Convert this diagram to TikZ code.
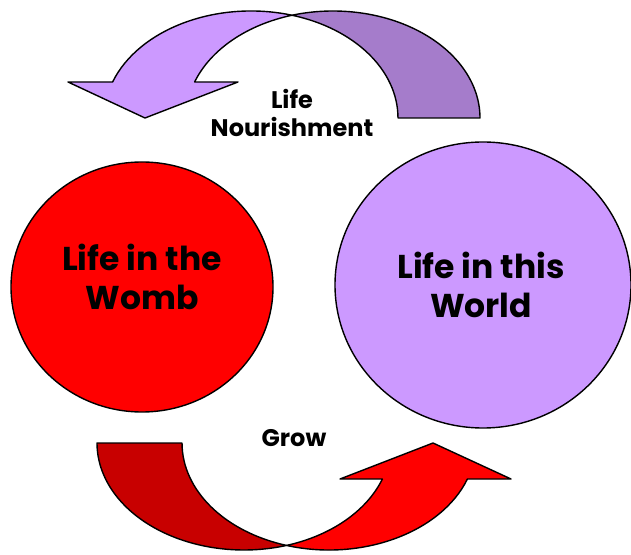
\documentclass[tikz,border=0pt]{standalone}
\usepackage{fontspec}
\setmainfont{Poppins}
\usetikzlibrary{shapes.geometric}
\definecolor{lav}{HTML}{CC99FF}
\definecolor{lavdark}{HTML}{A57CCB}
\definecolor{redA}{HTML}{FF0000}
\definecolor{redB}{HTML}{C80000}
\begin{document}
\begin{tikzpicture}[x=1pt,y=1pt,
  shapeline/.style={draw=black,line width=1.4pt,line join=round},
  bigtext/.style={font=\fontsize{33}{39}\selectfont\bfseries,align=center,text=black},
  smalltext/.style={font=\fontsize{24}{28}\selectfont\bfseries,align=center,text=black},
  disc/.style={ellipse,shapeline,inner sep=0pt},
  er/.style={x radius=147,y radius=107}]
\useasboundingbox (0,0) rectangle (631,554);

% top curved arrow (Life Nourishment)
\draw[shapeline,fill=lavdark] (480,436)
  arc[start angle=0,end angle=106.2,er]
  arc[start angle=73.8,end angle=0,er] -- cycle;
\draw[shapeline,fill=lav] (112.6,472)
  arc[start angle=160.34,end angle=73.8,er]
  arc[start angle=106.2,end angle=160.34,er]
  -- (238,472) -- (145,436) -- (68,472) -- cycle;

% bottom curved arrow (Grow)
\draw[shapeline,fill=redB] (97,111)
  arc[start angle=180,end angle=286.81,er]
  arc[start angle=253.19,end angle=180,er] -- cycle;
\draw[shapeline,fill=redA] (467.4,75)
  arc[start angle=340.34,end angle=253.19,er]
  arc[start angle=286.81,end angle=340.34,er]
  -- (340,75) -- (433,111) -- (511,75) -- cycle;

% circles
\node[disc,fill=redA,minimum width=262pt,minimum height=250pt] (womb) at (142,267) {};
\node[disc,fill=lav,minimum width=296pt,minimum height=286pt] (world) at (483,269) {};

% texts
\node[bigtext] (wombtext) at (142,277) {Life in the\\Womb};
\node[bigtext] (worldtext) at (481,269) {Life in this\\World};
\node[smalltext] (nourish) at (292,441.5) {Life\\Nourishment};
\node[smalltext] (grow) at (294,115.5) {Grow};
\end{tikzpicture}
\end{document}
